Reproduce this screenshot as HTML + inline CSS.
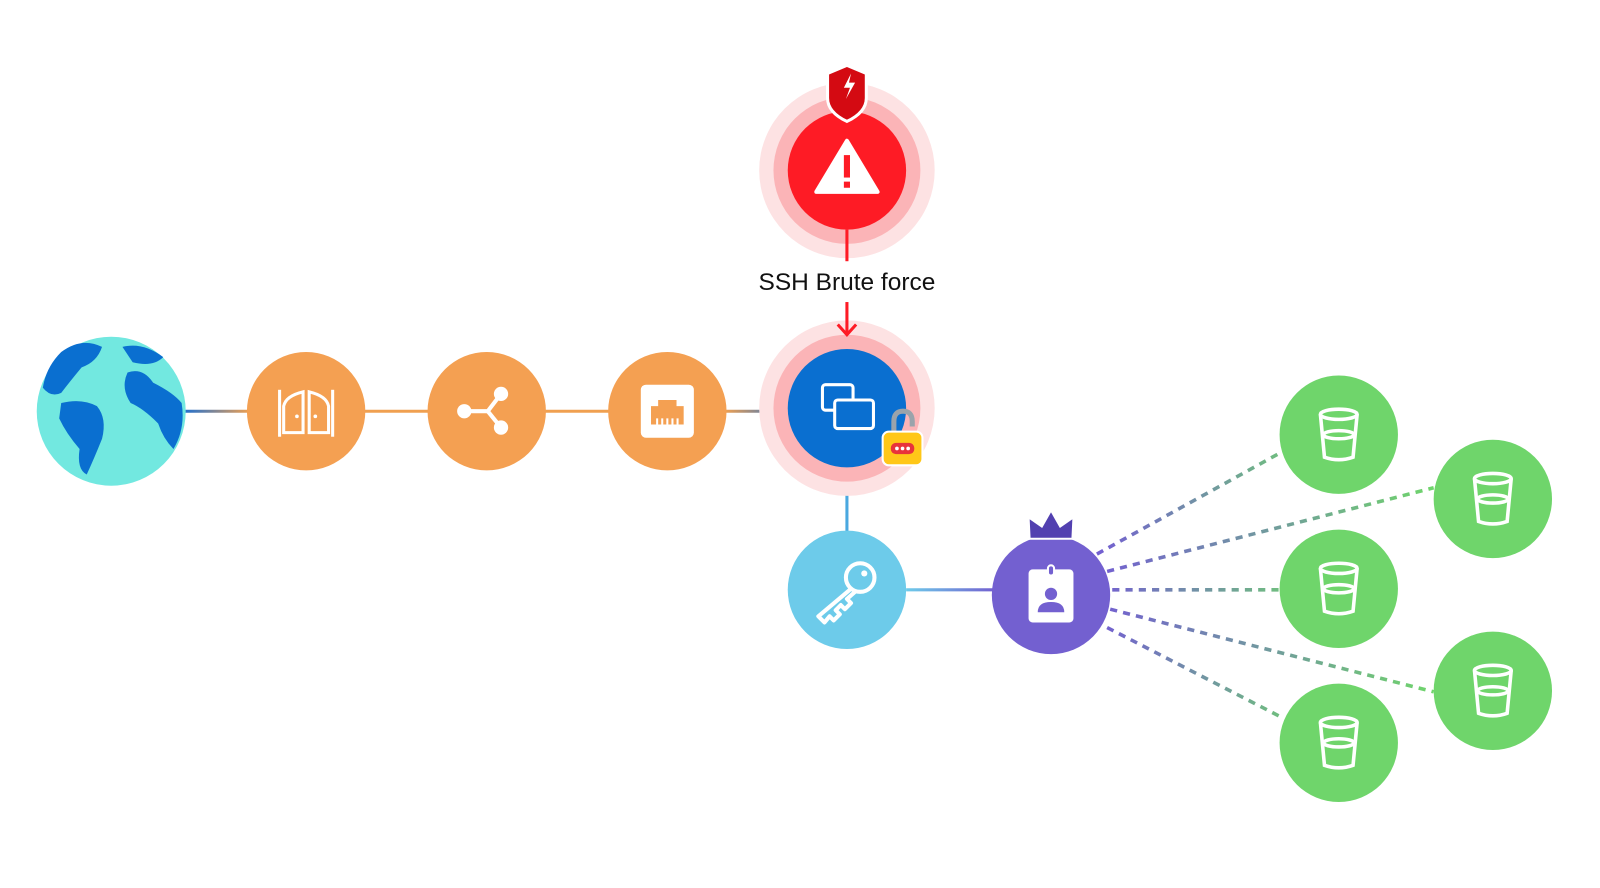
<!DOCTYPE html>
<html><head><meta charset="utf-8"><style>
html,body{margin:0;padding:0;background:#fff;width:1600px;height:888px;overflow:hidden}
</style></head><body>
<svg width="1600" height="888" viewBox="0 0 1600 888" xmlns="http://www.w3.org/2000/svg">
<defs>
<linearGradient id="g1" gradientUnits="userSpaceOnUse" x1="180" y1="0" x2="245" y2="0"><stop offset="0" stop-color="#1e6fd0"/><stop offset="1" stop-color="#f0a050"/></linearGradient>
<linearGradient id="g2" gradientUnits="userSpaceOnUse" x1="710" y1="0" x2="775" y2="0"><stop offset="0" stop-color="#f0a050"/><stop offset="1" stop-color="#1e6fd0"/></linearGradient>
<linearGradient id="g3" gradientUnits="userSpaceOnUse" x1="888" y1="0" x2="975" y2="0"><stop offset="0" stop-color="#6dcbea"/><stop offset="1" stop-color="#7360d0"/></linearGradient>
<linearGradient id="gd" gradientUnits="userSpaceOnUse" x1="1080" y1="0" x2="1300" y2="0"><stop offset="0" stop-color="#7360d0"/><stop offset="1" stop-color="#6fd56b"/></linearGradient>
<linearGradient id="gd2" gradientUnits="userSpaceOnUse" x1="1080" y1="0" x2="1405" y2="0"><stop offset="0" stop-color="#7360d0"/><stop offset="1" stop-color="#6fd56b"/></linearGradient>
</defs>
<g transform="scale(1.0204)">
<line x1="180" y1="403" x2="245" y2="403" stroke="url(#g1)" stroke-width="3"/>
<line x1="355" y1="403" x2="420" y2="403" stroke="#f0a050" stroke-width="3"/>
<line x1="532" y1="403" x2="598" y2="403" stroke="#f0a050" stroke-width="3"/>
<line x1="710" y1="403" x2="775" y2="403" stroke="url(#g2)" stroke-width="3"/>
<line x1="830" y1="455" x2="830" y2="522" stroke="#4aa8e0" stroke-width="3"/>
<line x1="888" y1="578" x2="975" y2="578" stroke="url(#g3)" stroke-width="3"/>
<g stroke-width="3.5" stroke-dasharray="7 6" fill="none">
<line x1="1075" y1="543" x2="1256" y2="443" stroke="url(#gd)"/>
<line x1="1085" y1="560" x2="1405" y2="478" stroke="url(#gd2)"/>
<line x1="1090" y1="578" x2="1255" y2="578" stroke="url(#gd)"/>
<line x1="1088" y1="597" x2="1405" y2="678" stroke="url(#gd2)"/>
<line x1="1085" y1="615" x2="1256" y2="703" stroke="url(#gd)"/>
</g>
<circle cx="830" cy="167" r="86" fill="#fde2e3"/>
<circle cx="830" cy="167" r="72" fill="#fbb4b7"/>
<circle cx="830" cy="167" r="58" fill="#fe1b25"/>
<polygon points="830,138 860,188 800,188" fill="#fff" stroke="#fff" stroke-width="4" stroke-linejoin="round"/>
<rect x="827" y="152" width="6" height="22" fill="#fe1b25"/>
<rect x="827" y="178" width="6" height="6" fill="#fe1b25"/>
<path d="M811,72 L830,64 L849,72 L849,96 Q849,110 830,119 Q811,110 811,96 Z" fill="#d40a12" stroke="#fff" stroke-width="3"/>
<path d="M834,72 L827,86 L833,86 L829,97 L838,81 L832,81 Z" fill="#fff"/>
<line x1="830" y1="225" x2="830" y2="256" stroke="#fe1b25" stroke-width="3"/>
<text x="830" y="284" font-family="Liberation Sans, sans-serif" font-size="24" text-anchor="middle" fill="#111">SSH Brute force</text>
<circle cx="830" cy="400" r="86" fill="#fde2e3"/>
<circle cx="830" cy="400" r="72" fill="#fbb4b7"/>
<circle cx="830" cy="400" r="58" fill="#0a6fd0"/>
<line x1="830" y1="296" x2="830" y2="328" stroke="#fe1b25" stroke-width="3"/>
<polyline points="821,318 830,328 839,318" fill="none" stroke="#fe1b25" stroke-width="3"/>
<rect x="806" y="377" width="30" height="25" rx="3" fill="none" stroke="#fff" stroke-width="3"/>
<rect x="818" y="392" width="38" height="28" rx="3" fill="#0a6fd0" stroke="#fff" stroke-width="3"/>
<path d="M876,425 L876,413 Q876,403 885,403 Q894,403 894,413 L894,418" fill="none" stroke="#9aa3ab" stroke-width="5"/>
<rect x="865" y="423" width="39" height="33" rx="6" fill="#ffc718" stroke="#fff" stroke-width="2"/>
<rect x="873" y="434" width="23" height="11" rx="5" fill="#e8333b"/>
<circle cx="879" cy="439.5" r="1.8" fill="#fff"/><circle cx="884.5" cy="439.5" r="1.8" fill="#fff"/><circle cx="890" cy="439.5" r="1.8" fill="#fff"/>
<circle cx="109" cy="403" r="73" fill="#72e8e0"/>
<g fill="#0a6fd0">
<path d="M60,345 Q80,330 100,340 Q95,355 80,360 Q70,372 60,385 Q50,390 42,380 Q45,360 60,345Z"/>
<path d="M120,340 Q140,335 160,350 Q150,360 130,355 Z"/>
<path d="M125,365 Q140,360 150,375 Q170,385 178,395 Q182,420 170,440 Q160,430 155,415 Q140,400 128,395 Q118,380 125,365Z"/>
<path d="M60,395 Q80,390 95,398 Q105,410 100,430 Q92,450 85,465 Q75,460 78,440 Q65,425 58,410Z"/>
</g>
<circle cx="300" cy="403" r="58" fill="#f4a052"/>
<g fill="none" stroke="#fff" stroke-width="3">
<line x1="274" y1="382" x2="274" y2="428"/><line x1="326" y1="382" x2="326" y2="428"/>
<path d="M278,424 L278,398 Q280,388 297,384 L297,424 Z"/><path d="M322,424 L322,398 Q320,388 303,384 L303,424 Z"/></g>
<circle cx="291" cy="408" r="1.8" fill="#fff"/><circle cx="309" cy="408" r="1.8" fill="#fff"/>
<circle cx="477" cy="403" r="58" fill="#f4a052"/>
<g stroke="#fff" stroke-width="4" fill="none"><polyline points="455,403 478,403 491,386"/><line x1="478" y1="403" x2="491" y2="419"/></g>
<circle cx="455" cy="403" r="7" fill="#fff"/><circle cx="491" cy="386" r="7" fill="#fff"/><circle cx="491" cy="419" r="7" fill="#fff"/>
<circle cx="654" cy="403" r="58" fill="#f4a052"/>
<rect x="628" y="377" width="52" height="52" rx="5" fill="#fff"/>
<path d="M638,416 L638,398 L645,398 L645,392 L663,392 L663,398 L670,398 L670,416 Z" fill="#f4a052"/>
<g fill="#fff"><rect x="643" y="410" width="2" height="6"/><rect x="648" y="410" width="2" height="6"/><rect x="653" y="410" width="2" height="6"/><rect x="658" y="410" width="2" height="6"/><rect x="663" y="410" width="2" height="6"/></g>
<circle cx="830" cy="578" r="58" fill="#6dcbea"/>
<g fill="none" stroke="#fff" stroke-width="4" stroke-linejoin="round">
<circle cx="843" cy="566" r="14"/>
<path d="M834,577 L802,604 L808,610 L813,604 L817,608 L823,602 L819,598 L824,593 L828,597 L834,591 L830,587 L839,579"/>
</g>
<circle cx="847" cy="562" r="3" fill="#fff"/>
<circle cx="1030" cy="583" r="58" fill="#7360d0"/>
<path d="M1009,528 L1008,507 L1021,516 L1030,500 L1039,516 L1052,507 L1051,528 Z" fill="#5240b0" stroke="#fff" stroke-width="2"/>
<rect x="1008" y="558" width="44" height="52" rx="4" fill="#fff"/>
<rect x="1027" y="554" width="6" height="10" rx="3" fill="#7360d0" stroke="#fff" stroke-width="2"/>
<circle cx="1030" cy="582" r="6" fill="#7360d0"/>
<path d="M1017,600 Q1017,590 1030,590 Q1043,590 1043,600 Z" fill="#7360d0"/>
<g fill="#6fd56b">
<circle cx="1312" cy="426" r="58"/><circle cx="1463" cy="489" r="58"/><circle cx="1312" cy="577" r="58"/><circle cx="1463" cy="677" r="58"/><circle cx="1312" cy="728" r="58"/>
</g>
<g fill="none" stroke="#fff" stroke-width="3.5">
<g transform="translate(1312,426)"><ellipse cx="0" cy="-20" rx="18" ry="5"/><ellipse cx="0" cy="0" rx="15" ry="4"/><path d="M-18,-20 L-14,22 Q0,27 14,22 L18,-20"/></g>
<g transform="translate(1463,489)"><ellipse cx="0" cy="-20" rx="18" ry="5"/><ellipse cx="0" cy="0" rx="15" ry="4"/><path d="M-18,-20 L-14,22 Q0,27 14,22 L18,-20"/></g>
<g transform="translate(1312,577)"><ellipse cx="0" cy="-20" rx="18" ry="5"/><ellipse cx="0" cy="0" rx="15" ry="4"/><path d="M-18,-20 L-14,22 Q0,27 14,22 L18,-20"/></g>
<g transform="translate(1463,677)"><ellipse cx="0" cy="-20" rx="18" ry="5"/><ellipse cx="0" cy="0" rx="15" ry="4"/><path d="M-18,-20 L-14,22 Q0,27 14,22 L18,-20"/></g>
<g transform="translate(1312,728)"><ellipse cx="0" cy="-20" rx="18" ry="5"/><ellipse cx="0" cy="0" rx="15" ry="4"/><path d="M-18,-20 L-14,22 Q0,27 14,22 L18,-20"/></g>
</g>
</g>
</svg>
</body></html>
